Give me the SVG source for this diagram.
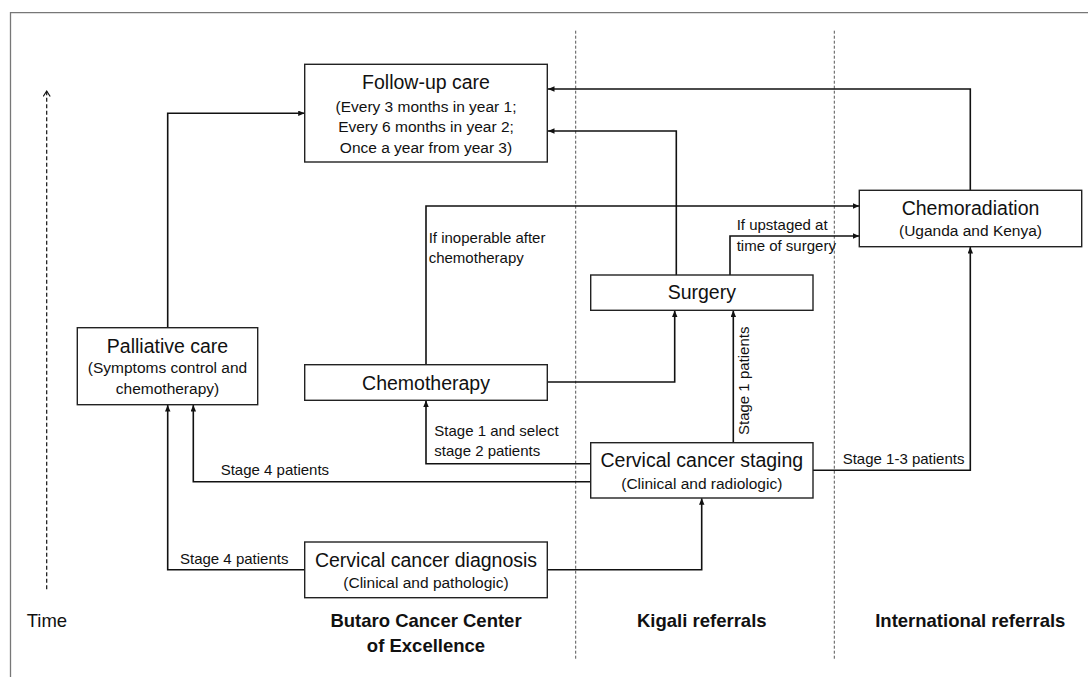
<svg xmlns="http://www.w3.org/2000/svg" width="1088" height="677" viewBox="0 0 1088 677">
<defs>
<marker id="ah" markerUnits="userSpaceOnUse" markerWidth="7" markerHeight="6" refX="6.5" refY="2.75" orient="auto">
<path d="M0,0 L6.5,2.75 L0,5.5 z" fill="#111"/>
</marker>
<marker id="open" markerUnits="userSpaceOnUse" markerWidth="10" markerHeight="10" refX="6" refY="4" orient="auto">
<path d="M0.5,0.5 L6,4 L0.5,7.5" fill="none" stroke="#111" stroke-width="1.2"/>
</marker>
<style>
.box{fill:#fff;stroke:#222;stroke-width:1.4}
.title{font-family:"Liberation Sans",Arial,sans-serif;font-size:19.5px;fill:#111;text-anchor:middle}
.sub{font-family:"Liberation Sans",Arial,sans-serif;font-size:15.5px;fill:#111;text-anchor:middle}
.lbl{font-family:"Liberation Sans",Arial,sans-serif;font-size:15px;fill:#111}
.hdr{font-family:"Liberation Sans",Arial,sans-serif;font-size:18.5px;font-weight:bold;fill:#111;text-anchor:middle}
.conn{fill:none;stroke:#111;stroke-width:1.6;marker-end:url(#ah)}
.col{stroke:#555;stroke-width:1;stroke-dasharray:3,2}
</style>
</defs>
<rect x="0" y="0" width="1088" height="677" fill="#fff"/>
<path d="M10.5,690 V12.7 H1100" fill="none" stroke="#777" stroke-width="1.3"/>

<g id="columns">
<line class="col" x1="575.7" y1="30.7" x2="575.7" y2="660"/>
<line class="col" x1="834.3" y1="30.7" x2="834.3" y2="660"/>
</g>

<g id="time-axis">
<line x1="46.7" y1="589.3" x2="46.7" y2="91" stroke="#111" stroke-width="1.2" stroke-dasharray="4,2.5" marker-end="url(#open)"/>
<text x="26.7" y="627" font-family="Liberation Sans,Arial,sans-serif" font-size="18.5" fill="#111">Time</text>
</g>

<g id="connectors">
<path class="conn" d="M167.7,327.7 V113.3 H304.7"/>
<path class="conn" d="M970.3,190.3 V89 H548"/>
<path class="conn" d="M676.3,275 V131 H548"/>
<path class="conn" d="M426,364.7 V206 H859.3"/>
<path class="conn" d="M730,275 V236 H859.3"/>
<path class="conn" d="M547.3,382 H674.7 V310.5"/>
<path class="conn" d="M733.3,442.7 V310.5"/>
<path class="conn" d="M590.7,463.7 H426 V400.5"/>
<path class="conn" d="M590.7,481.7 H193.3 V405"/>
<path class="conn" d="M304.7,569.7 H167.7 V405"/>
<path class="conn" d="M547.3,569.7 H701.7 V498.3"/>
<path class="conn" d="M813,470.3 H970.3 V247"/>
</g>

<g id="connector-labels">
<text class="lbl" x="428.7" y="242.7">If inoperable after</text>
<text class="lbl" x="428.7" y="263">chemotherapy</text>
<text class="lbl" x="736.7" y="230">If upstaged at</text>
<text class="lbl" x="736.7" y="250.7">time of surgery</text>
<text class="lbl" transform="translate(749,435) rotate(-90)">Stage 1 patients</text>
<text class="lbl" x="434.3" y="436">Stage 1 and select</text>
<text class="lbl" x="434.3" y="456">stage 2 patients</text>
<text class="lbl" x="220.7" y="475.3">Stage 4 patients</text>
<text class="lbl" x="180" y="563.7">Stage 4 patients</text>
<text class="lbl" x="842.7" y="464.3">Stage 1-3 patients</text>
</g>

<g id="follow-up">
<rect class="box" x="304.7" y="64.3" width="242.6" height="97.7"/>
<text class="title" x="426" y="89.3">Follow-up care</text>
<text class="sub" x="426" y="111.7">(Every 3 months in year 1;</text>
<text class="sub" x="426" y="132.3">Every 6 months in year 2;</text>
<text class="sub" x="426" y="152.7">Once a year from year 3)</text>
</g>

<g id="chemoradiation">
<rect class="box" x="859.3" y="190.3" width="222.4" height="56.4"/>
<text class="title" x="970.5" y="215">Chemoradiation</text>
<text class="sub" x="970.5" y="236">(Uganda and Kenya)</text>
</g>

<g id="surgery">
<rect class="box" x="590.7" y="275" width="222.3" height="35.3"/>
<text class="title" x="701.8" y="299">Surgery</text>
</g>

<g id="palliative">
<rect class="box" x="77.3" y="327.7" width="180.4" height="77"/>
<text class="title" x="167.5" y="353">Palliative care</text>
<text class="sub" x="167.5" y="373">(Symptoms control and</text>
<text class="sub" x="167.5" y="393.7">chemotherapy)</text>
</g>

<g id="chemotherapy">
<rect class="box" x="304.7" y="364.7" width="242.6" height="35.6"/>
<text class="title" x="426" y="390">Chemotherapy</text>
</g>

<g id="staging">
<rect class="box" x="590.7" y="442.7" width="222.3" height="55.3"/>
<text class="title" x="701.8" y="467">Cervical cancer staging</text>
<text class="sub" x="701.8" y="488.7">(Clinical and radiologic)</text>
</g>

<g id="diagnosis">
<rect class="box" x="304.7" y="542" width="242.6" height="55.7"/>
<text class="title" x="426" y="567">Cervical cancer diagnosis</text>
<text class="sub" x="426" y="587.7">(Clinical and pathologic)</text>
</g>

<g id="column-headers">
<text class="hdr" x="426" y="627">Butaro Cancer Center</text>
<text class="hdr" x="426" y="652">of Excellence</text>
<text class="hdr" x="701.8" y="627">Kigali referrals</text>
<text class="hdr" x="970.3" y="627">International referrals</text>
</g>
</svg>
